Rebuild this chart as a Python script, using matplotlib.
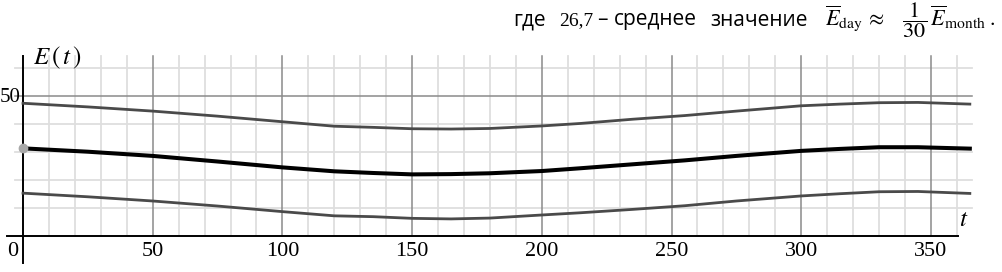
import matplotlib.pyplot as plt
import numpy as np

plt.rcParams['mathtext.fontset'] = 'stix'

# days of year and readings of E(t)
t = [0, 25, 50, 75, 100, 120, 135, 150, 165, 180, 200, 215, 235, 255, 275, 300, 315, 330, 345, 365]
E_top = [47.3, 46.0, 44.5, 42.7, 40.7, 39.1, 38.7, 38.2, 38.1, 38.3, 39.2, 40.1, 41.6, 42.9, 44.5, 46.4, 47.0, 47.5, 47.6, 47.0]
E_mid = [31.2, 30.0, 28.5, 26.5, 24.4, 23.0, 22.4, 21.9, 22.0, 22.3, 23.1, 24.1, 25.5, 26.9, 28.5, 30.3, 31.0, 31.6, 31.6, 31.1]
E_low = [15.2, 13.9, 12.4, 10.6, 8.6, 7.1, 6.8, 6.2, 6.0, 6.3, 7.4, 8.2, 9.4, 10.7, 12.4, 14.2, 15.0, 15.7, 15.8, 15.1]

xticks = [0, 50, 100, 150, 200, 250, 300, 350]
yticks = [50]

fig = plt.figure(figsize=(10.02, 2.72), dpi=100)
ax = fig.add_axes([0, 0, 1, 1])
ax.set_xlim(-8.87, 377.4)
ax.set_ylim(-12.96, 84.18)
ax.axis('off')

# grid, minor every 10, major every 50
for x in range(10, 361, 10):
    if x % 50 == 0:
        ax.plot([x, x], [0, 64.2], color='#8a8a8a', lw=1.1, zorder=1)
    else:
        ax.plot([x, x], [0, 64.2], color='#dedede', lw=1.3, zorder=0)
for y in range(10, 61, 10):
    if y % 50 == 0:
        ax.plot([-3, 366], [y, y], color='#8a8a8a', lw=1.1, zorder=1)
    else:
        ax.plot([-3, 366], [y, y], color='#dedede', lw=1.3, zorder=0)

# axes lines
ax.plot([0, 0], [-9.6, 64.2], color='black', lw=1.4, zorder=3)
ax.plot([-6.2, 360.5], [0, 0], color='black', lw=1.4, zorder=3)

ax.plot(t, E_top, color='#4a4a4a', lw=2.0, zorder=4)
ax.plot(t, E_low, color='#4a4a4a', lw=2.0, zorder=4)
ax.plot(t, E_mid, color='black', lw=2.9, zorder=5)
ax.plot([t[0]], [E_mid[0]], 'o', color='#a8a8a8', ms=6, zorder=6)

for x in xticks:
    xx = -4 if x == 0 else x
    ax.text(xx, -5.6, str(x), ha='center', va='center', family='Liberation Serif', fontsize=16)
for y in yticks:
    ax.text(-0.8, y - 0.5, str(y), ha='right', va='center', family='Liberation Serif', fontsize=15)

ax.text(13.1, 63.6, r'$E\,(\,t\,)$', ha='center', va='center', fontsize=18)
ax.text(362.8, 5.8, r'$t$', ha='center', va='center', fontsize=18)

# caption line at the top
W, H = 1002.0, 272.0
base = 1 - 25.5 / H
sans = dict(family='Open Sans', fontsize=15, va='baseline')
fig.text(513 / W, base, 'где', **sans)
fig.text(559 / W, base, '26,7', family='Liberation Serif', fontsize=14, va='baseline')
fig.text(597 / W, base, '–', **sans)
fig.text(614 / W, base, 'среднее', **sans)
fig.text(710 / W, base, 'значение', **sans)
fig.text(825 / W, base, r'$\overline{E}_{\mathrm{day}}\,\approx\ \ \ \dfrac{1}{30}\,\overline{E}_{\mathrm{month}}\;.$',
         fontsize=16, va='baseline')

fig.savefig('out.png', dpi=100)
